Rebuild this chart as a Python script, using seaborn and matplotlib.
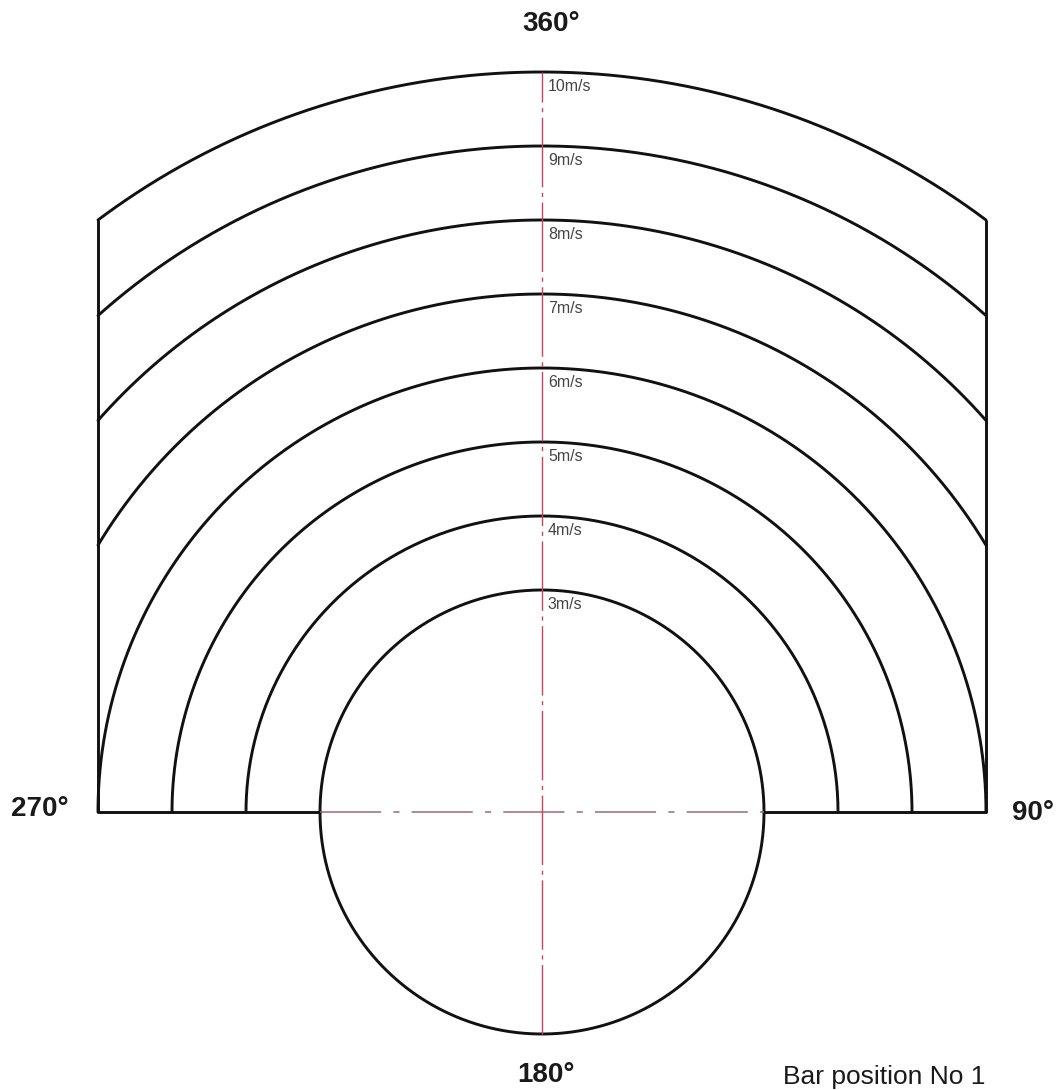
import matplotlib
matplotlib.use('Agg')
import matplotlib.pyplot as plt
import numpy as np
import pandas as pd
import seaborn as sns

# Wind speed rings (m/s) and clip half-width of the diagram
speeds = [3, 4, 5, 6, 7, 8, 9, 10]
speed_labels = ['3m/s', '4m/s', '5m/s', '6m/s', '7m/s', '8m/s', '9m/s', '10m/s']
half_width = 6
directions = ['360°', '90°', '180°', '270°']
footer = 'Bar position No 1'

sns.set_style('white')
plt.rcParams['font.family'] = ['Liberation Sans', 'DejaVu Sans']

fig = plt.figure(figsize=(10.6, 10.9), dpi=100)
ax = fig.add_axes([0, 0, 1, 1])

black = '#111111'
red = '#c8455e'

for r in speeds:
    if r == speeds[0]:
        t = np.linspace(0, 2 * np.pi, 400)
    elif r <= half_width:
        t = np.linspace(0, np.pi, 300)
    else:
        a = np.arccos(half_width / r)
        t = np.linspace(a, np.pi - a, 300)
    arc = pd.DataFrame({'x': r * np.cos(t), 'y': r * np.sin(t)})
    sns.lineplot(data=arc, x='x', y='y', sort=False, estimator=None,
                 color=black, lw=2.1, ax=ax)

# outer side walls
top_y = np.sqrt(speeds[-1] ** 2 - half_width ** 2)
for sx in (-half_width, half_width):
    ax.plot([sx, sx], [0, top_y], color=black, lw=2.1, solid_capstyle='butt')

# base line
r0 = speeds[0]
ax.plot([-half_width, -r0], [0, 0], color=black, lw=2.1)
ax.plot([r0, half_width], [0, 0], color=black, lw=2.1)
ax.plot([-r0, r0], [0, 0], color='#a06870', lw=1.1,
        linestyle=(0, (40, 8, 4, 8)))

# vertical centre line
ax.plot([0, 0], [-r0, speeds[-1]], color=red, lw=1.0,
        linestyle=(0, (50, 4, 3, 4)))

for r, lab in zip(speeds, speed_labels):
    ax.text(0.08, r - 0.1, lab, fontsize=11.5, color='#444444',
            ha='left', va='top')

bold = dict(fontsize=20, fontweight='bold', color='#1a1a1a')
ax.text(0.13, 10.65, directions[0], ha='center', va='center', **bold)
ax.text(6.64, -0.02, directions[1], ha='center', va='center', **bold)
ax.text(0.05, -3.55, directions[2], ha='center', va='center', **bold)
ax.text(-6.78, 0.04, directions[3], ha='center', va='center', **bold)
ax.text(3.26, -3.74, footer, ha='left', va='bottom', fontsize=19,
        color='#1a1a1a')

ax.set_xlim(-542 / 74, 518 / 74)
ax.set_ylim(-278 / 74, 812 / 74)
ax.set_aspect('equal')
ax.axis('off')

fig.savefig('out.png', dpi=100, facecolor='white')
